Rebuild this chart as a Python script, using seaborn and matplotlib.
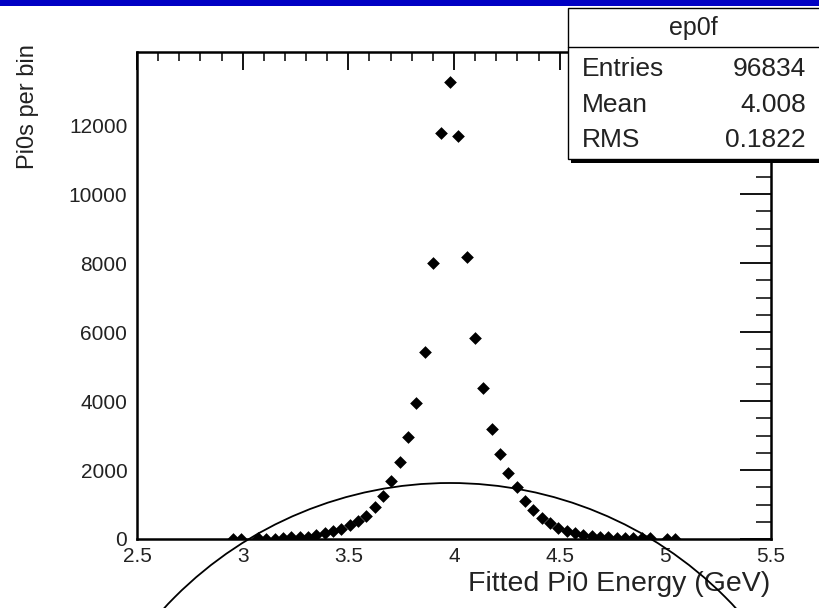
import numpy as np
import pandas as pd
import matplotlib
matplotlib.use("Agg")
import matplotlib.pyplot as plt
from matplotlib.patches import Rectangle, Ellipse
from matplotlib.ticker import MultipleLocator
import seaborn as sns

# ---- data ----
x_min, x_max, n_bins = 2.5, 5.5, 76
first_bin = 11
counts = [10, 10, 0, 15, 10, 10, 15, 50, 50, 70,
          115, 165, 225, 290, 405, 515, 660, 930, 1250, 1680,
          2220, 2960, 3950, 5430, 8000, 11760, 13250, 11680, 8180, 5820,
          4370, 3200, 2475, 1905, 1500, 1110, 840, 620, 465, 330,
          240, 165, 125, 95, 65, 50, 30, 20, 20, 30,
          20, 0, 10, 10]
stats_title = "ep0f"
stats_names = ["Entries", "Mean", "RMS"]
stats_values = ["96834", "4.008", "0.1822"]
x_ticks = [2.5, 3, 3.5, 4, 4.5, 5, 5.5]
y_ticks = [0, 2000, 4000, 6000, 8000, 10000, 12000]

width = (x_max - x_min) / n_bins
idx = np.arange(first_bin, first_bin + len(counts))
centers = x_min + width * (idx + 0.5)
df = pd.DataFrame({"energy": centers, "count": counts})
df = df[df["count"] > 0]

sns.set_style("white")
plt.rcParams["font.family"] = ["Liberation Sans", "DejaVu Sans"]

W, H = 819, 608
fig = plt.figure(figsize=(W / 100, H / 100), dpi=100)
ax = fig.add_axes([137 / W, 1 - 539 / H, (771 - 137) / W, (539 - 52) / H])

sns.scatterplot(data=df, x="energy", y="count", marker="D", color="black",
                s=42, linewidth=0, ax=ax, legend=False, zorder=3)

ax.set_xlim(x_min, x_max)
ax.set_ylim(0, 14120)
ax.set_xticks(x_ticks)
ax.set_xticklabels([f"{t:g}" for t in x_ticks])
ax.set_yticks(y_ticks)
ax.set_yticklabels([str(t) for t in y_ticks])
ax.xaxis.set_minor_locator(MultipleLocator(0.1))
ax.yaxis.set_minor_locator(MultipleLocator(500))
ax.tick_params(axis="both", which="both", direction="in", top=True, right=True,
               colors="black", labelcolor="#222222")
ax.tick_params(axis="x", which="major", length=13, width=1.3, labelsize=15, pad=6)
ax.tick_params(axis="x", which="minor", length=6.5, width=1.1)
ax.tick_params(axis="y", which="major", length=22, width=1.3, labelsize=15, pad=7)
ax.tick_params(axis="y", which="minor", length=11, width=1.1)
for sp in ax.spines.values():
    sp.set_visible(True)
    sp.set_linewidth(1.8)
    sp.set_color("black")
ax.set_xlabel("")
ax.set_ylabel("")

fig.text(770 / W, 1 - 584 / H, "Fitted Pi0 Energy (GeV)", ha="right", va="center",
         fontsize=20.5, color="#222222")
fig.text(28 / W, 1 - 44 / H, "Pi0s per bin", ha="center", va="top", rotation=90,
         fontsize=17, color="#222222")

# top blue banner
fig.add_artist(Rectangle((0, 1 - 6 / H), 1, 6 / H, transform=fig.transFigure,
                         facecolor="#0000c4", edgecolor="none", zorder=5))

# stats box with shadow
bx0, by0, bx1, by1 = 568, 8, 822, 159
fig.add_artist(Rectangle(((bx0 + 3) / W, 1 - (by1 + 4) / H), (bx1 - bx0) / W, (by1 - by0) / H,
                         transform=fig.transFigure, facecolor="black", edgecolor="none", zorder=6))
fig.add_artist(Rectangle((bx0 / W, 1 - by1 / H), (bx1 - bx0) / W, (by1 - by0) / H,
                         transform=fig.transFigure, facecolor="white", edgecolor="black",
                         linewidth=1.0, zorder=7))
fig.add_artist(plt.Line2D([bx0 / W, 1], [1 - 47 / H, 1 - 47 / H], transform=fig.transFigure,
                          color="black", linewidth=1.0, zorder=8))
fig.text(693 / W, 1 - 28 / H, stats_title, ha="center", va="center", fontsize=18,
         color="#222222", zorder=9)
for k, (name, val) in enumerate(zip(stats_names, stats_values)):
    yy = 1 - (69 + 35.5 * k) / H
    fig.text(582 / W, yy, name, ha="left", va="center", fontsize=19, color="#222222", zorder=9)
    fig.text(806 / W, yy, val, ha="right", va="center", fontsize=19, color="#222222", zorder=9)

# hand-drawn style circle annotation
fig.add_artist(Ellipse((450 / W, 1 - 872 / H), 778 / W, 778 / H, transform=fig.transFigure,
                       facecolor="none", edgecolor="black", linewidth=1.3, zorder=4))

fig.savefig("out.png", dpi=100)
